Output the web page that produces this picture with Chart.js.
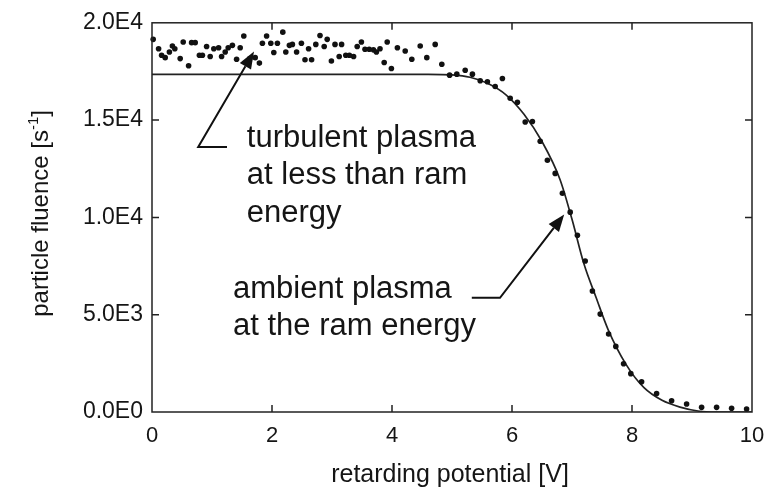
<!DOCTYPE html>
<html>
<head>
<meta charset="utf-8">
<script src="https://cdn.jsdelivr.net/npm/chart.js@4/dist/chart.umd.min.js"></script>
<style>
  html, body { margin: 0; padding: 0; background: #fff; }
</style>
</head>
<body>
<canvas id="fluenceChart" width="776" height="495"></canvas>
<script>
// measured counts (dots)
const measX = [0.02, 0.11, 0.16, 0.22, 0.29, 0.34, 0.38, 0.47, 0.52, 0.61, 0.66, 0.72, 0.79, 0.84, 0.91, 0.97,
  1.03, 1.11, 1.16, 1.22, 1.27, 1.34, 1.41, 1.47, 1.53, 1.63, 1.72, 1.79, 1.84, 1.91, 1.98,
  2.03, 2.09, 2.18, 2.23, 2.29, 2.34, 2.41, 2.49, 2.55, 2.61, 2.66, 2.73, 2.80, 2.87, 2.92, 2.99,
  3.05, 3.12, 3.16, 3.23, 3.29, 3.36, 3.42, 3.49, 3.55, 3.62, 3.69, 3.74, 3.80, 3.87, 3.92, 3.99,
  4.09, 4.22, 4.33, 4.47, 4.58, 4.72, 4.83, 4.96, 5.08, 5.22, 5.34, 5.47, 5.59, 5.72, 5.84, 5.97,
  6.09, 6.22, 6.34, 6.47, 6.59, 6.72, 6.84, 6.97, 7.09, 7.22, 7.34, 7.47, 7.61, 7.73, 7.86, 7.98,
  8.16, 8.41, 8.66, 8.91, 9.16, 9.41, 9.66, 9.91];
const measY = [19150, 18670, 18330, 18210, 18500, 18810, 18670, 18160, 19010, 17790, 18980, 18980, 18330, 18330, 18780, 18270,
  18670, 18720, 18270, 18500, 18720, 18840, 18130, 18720, 19320, 18160, 18210, 17930, 18950, 19320, 18950,
  18470, 18950, 19520, 18500, 18840, 18890, 18500, 18950, 18100, 18670, 18100, 18890, 19350, 18780, 19150, 18040,
  18890, 18270, 18890, 18330, 18330, 18270, 18780, 19010, 18640, 18640, 18610, 18500, 18670, 17960, 19010, 17650,
  18720, 18550, 18130, 18810, 18210, 18890, 17870, 17310, 17360, 17560, 17360, 17020, 16970, 16730, 17140, 16120,
  15920, 14900, 14930, 13910, 12940, 12260, 11240, 10270, 9080, 7760, 6220, 5030, 4010, 3370, 2480, 1970,
  1550, 950, 580, 410, 240, 240, 190, 150];

// fitted curve
const fitX = [0, 4.6, 5.0, 5.3, 5.6, 5.9, 6.2, 6.5, 6.8, 7.0, 7.2, 7.4, 7.6, 7.9, 8.2, 8.5, 8.8, 9.1, 9.4, 10];
const fitY = [17350, 17350, 17320, 17200, 16880, 16300, 15300, 13900, 11950, 9900, 7600, 5900, 4250, 2450, 1250, 600, 250, 50, 0, 0];

const xTicks = [0, 2, 4, 6, 8, 10];
const yTicks = [0, 5000, 10000, 15000, 20000];
const yTickLabels = ['0.0E0', '5.0E3', '1.0E4', '1.5E4', '2.0E4'];

const xTitle = 'retarding potential [V]';
const yTitle = 'particle fluence [s';
const yTitleSup = '-1';

// annotation texts, anchored in data units
const notes = [
    { lines: ['turbulent plasma', 'at less than ram', 'energy'], at: [1.58, 13620],
      stub: [1.25, 13620], elbow: [0.77, 13620], tip: [1.70, 18520] },
    { lines: ['ambient plasma', 'at the ram energy'], at: [1.35, 5870],
      stub: [5.33, 5870], elbow: [5.80, 5870], tip: [6.87, 10150] }
];

const FONT = '"Liberation Sans", Arial, Helvetica, sans-serif';
const INK = '#151515';

const paperPlugin = {
    id: 'paper',
    beforeDraw(chart) {
        const ctx = chart.ctx;
        ctx.save();
        ctx.fillStyle = '#fff';
        ctx.fillRect(0, 0, chart.width, chart.height);
        ctx.restore();
    },
    afterDraw(chart) {
        const { ctx, chartArea: a, scales: { x, y } } = chart;
        ctx.save();

        // frame with inward ticks on all four sides
        ctx.strokeStyle = '#222';
        ctx.lineWidth = 1.5;
        ctx.strokeRect(a.left, a.top, a.right - a.left, a.bottom - a.top);
        const tl = 7;
        ctx.beginPath();
        xTicks.slice(1, -1).forEach(v => {
            const px = x.getPixelForValue(v);
            ctx.moveTo(px, a.bottom); ctx.lineTo(px, a.bottom - tl);
            ctx.moveTo(px, a.top); ctx.lineTo(px, a.top + tl);
        });
        yTicks.slice(1, -1).forEach(v => {
            const py = y.getPixelForValue(v);
            ctx.moveTo(a.left, py); ctx.lineTo(a.left + tl, py);
            ctx.moveTo(a.right, py); ctx.lineTo(a.right - tl, py);
        });
        ctx.stroke();

        // axis titles
        ctx.fillStyle = INK;
        ctx.font = '25px ' + FONT;
        ctx.textAlign = 'center';
        ctx.textBaseline = 'alphabetic';
        ctx.fillText(xTitle, (a.left + a.right) / 2 - 2, a.bottom + 70);

        ctx.save();
        ctx.translate(a.left - 104, (a.top + a.bottom) / 2 - 4);
        ctx.rotate(-Math.PI / 2);
        ctx.font = '24px ' + FONT;
        const w1 = ctx.measureText(yTitle).width;
        ctx.font = '15px ' + FONT;
        const w2 = ctx.measureText(yTitleSup).width;
        ctx.font = '24px ' + FONT;
        const w3 = ctx.measureText(']').width;
        let sx = -(w1 + w2 + w3) / 2;
        ctx.textAlign = 'left';
        ctx.fillText(yTitle, sx, 0);
        ctx.font = '15px ' + FONT;
        ctx.fillText(yTitleSup, sx + w1, -10);
        ctx.font = '24px ' + FONT;
        ctx.fillText(']', sx + w1 + w2, 0);
        ctx.restore();

        // annotations with arrows
        notes.forEach(n => {
            ctx.font = '31px ' + FONT;
            ctx.textAlign = 'left';
            ctx.fillStyle = INK;
            const tx = x.getPixelForValue(n.at[0]);
            const ty = y.getPixelForValue(n.at[1]);
            n.lines.forEach((s, i) => ctx.fillText(s, tx, ty + i * 37.5));

            const sx0 = x.getPixelForValue(n.stub[0]), sy0 = y.getPixelForValue(n.stub[1]);
            const ex = x.getPixelForValue(n.elbow[0]), ey = y.getPixelForValue(n.elbow[1]);
            const px = x.getPixelForValue(n.tip[0]), py = y.getPixelForValue(n.tip[1]);
            ctx.strokeStyle = '#111';
            ctx.lineWidth = 2;
            const ang = Math.atan2(py - ey, px - ex);
            const hl = 17, hw = 6.5;
            const bx = px - hl * Math.cos(ang), by = py - hl * Math.sin(ang);
            ctx.beginPath();
            ctx.moveTo(sx0, sy0);
            ctx.lineTo(ex, ey);
            ctx.lineTo(bx, by);
            ctx.stroke();
            ctx.fillStyle = '#111';
            ctx.beginPath();
            ctx.moveTo(px, py);
            ctx.lineTo(bx + hw * Math.sin(ang), by - hw * Math.cos(ang));
            ctx.lineTo(bx - hw * Math.sin(ang), by + hw * Math.cos(ang));
            ctx.closePath();
            ctx.fill();
        });

        ctx.restore();
    }
};

const ctx = document.getElementById('fluenceChart').getContext('2d');
const chart = new Chart(ctx, {
    type: 'scatter',
    data: {
        datasets: [
            {
                label: 'measured',
                data: measX.map((v, i) => ({ x: v, y: measY[i] })),
                backgroundColor: '#111',
                borderColor: '#111',
                pointRadius: 2.8,
                pointBorderWidth: 0,
                clip: false
            },
            {
                type: 'line',
                label: 'fit',
                data: fitX.map((v, i) => ({ x: v, y: fitY[i] })),
                borderColor: '#222',
                borderWidth: 1.7,
                pointRadius: 0,
                fill: false,
                cubicInterpolationMode: 'monotone'
            }
        ]
    },
    options: {
        responsive: false,
        animation: false,
        layout: { padding: { top: 20, right: 24, left: 0, bottom: 0 } },
        plugins: {
            legend: { display: false },
            tooltip: { enabled: false }
        },
        scales: {
            x: {
                type: 'linear',
                min: 0,
                max: 10,
                afterFit: s => { s.height = 83; },
                afterBuildTicks: s => { s.ticks = xTicks.map(v => ({ value: v })); },
                grid: { display: false, drawTicks: false },
                border: { display: false },
                ticks: {
                    padding: 11,
                    color: INK,
                    font: { family: FONT, size: 22 },
                    maxRotation: 0
                }
            },
            y: {
                type: 'linear',
                min: 0,
                max: 20000,
                afterFit: s => { s.width = 152; },
                afterBuildTicks: s => { s.ticks = yTicks.map(v => ({ value: v })); },
                grid: { display: false, drawTicks: false },
                border: { display: false },
                ticks: {
                    padding: 9,
                    color: INK,
                    font: { family: FONT, size: 23 },
                    callback: v => yTickLabels[yTicks.indexOf(v)]
                }
            }
        }
    },
    plugins: [paperPlugin]
});
</script>
</body>
</html>
